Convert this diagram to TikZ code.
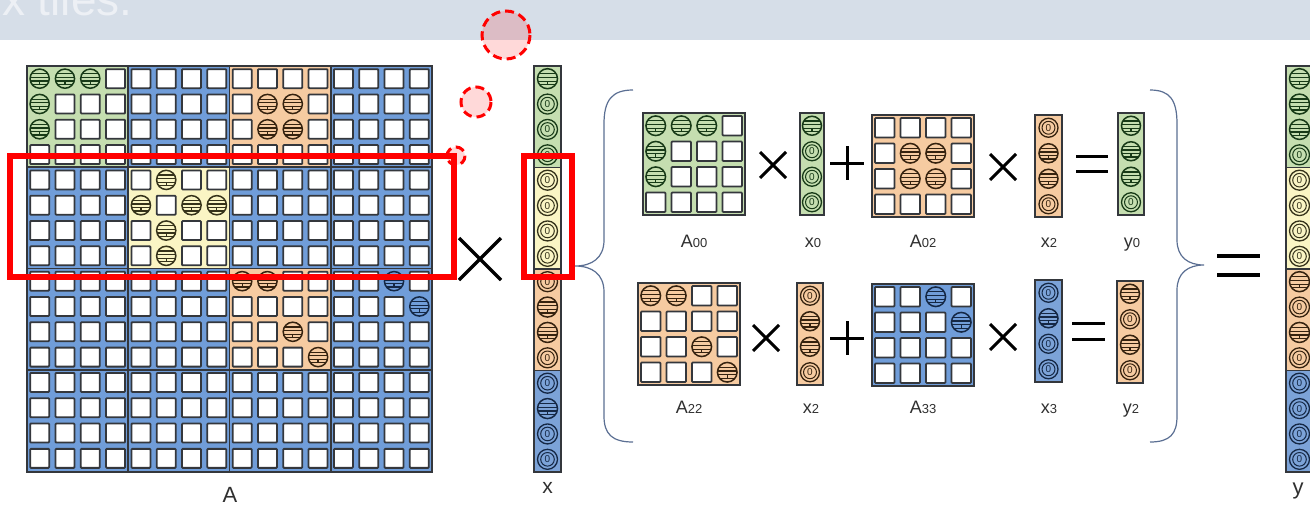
\documentclass[tikz,border=0pt]{standalone}
\usepackage{fontspec}
\setmainfont{Liberation Sans}
\definecolor{banner}{HTML}{D6DEE8}
\definecolor{gA}{HTML}{C5DEB0}
\definecolor{yA}{HTML}{FAF5C4}
\definecolor{oA}{HTML}{F6CBA1}
\definecolor{bA}{HTML}{709DD9}
\definecolor{bV}{HTML}{7CA3D8}
\definecolor{gS}{HTML}{173A17}
\definecolor{yS}{HTML}{35321A}
\definecolor{oS}{HTML}{35220F}
\definecolor{bS}{HTML}{152845}
\definecolor{frame}{HTML}{34373C}
\definecolor{brace}{HTML}{5B6F93}
\definecolor{mark}{HTML}{FF0000}
\definecolor{lblc}{HTML}{303030}
\newcounter{zc}
\newcommand\nzb[4]{%
 \draw[#4, line width=1.5pt] ({#1},{#2}) circle[radius=#3];
 \draw[#4, line width=1.25pt]
   ({#1-0.85*#3},{#2-0.5*#3}) -- ({#1+0.85*#3},{#2-0.5*#3})
   ({#1-0.98*#3},{#2-0.13*#3}) -- ({#1+0.98*#3},{#2-0.13*#3})
   ({#1-0.96*#3},{#2+0.25*#3}) -- ({#1+0.96*#3},{#2+0.25*#3})
   ({#1-0.78*#3},{#2+0.6*#3}) -- ({#1+0.78*#3},{#2+0.6*#3})
   ({#1},{#2+0.25*#3}) -- ({#1},{#2+0.6*#3});
}
\newcommand\zb[4]{%
 \stepcounter{zc}%
 \draw[#4, line width=1.3pt] ({#1},{#2}) circle[radius=#3];
 \draw[#4, line width=1pt] ({#1},{#2}) circle[radius={0.68*#3}];
 \node[text=#4, inner sep=0pt, font=\fontsize{10}{10}\selectfont] (z\arabic{zc}) at ({#1},{#2}) {0};
}
\newcommand\vb[5]{\if#3n\nzb{#1}{#2}{#5}{#4}\else\zb{#1}{#2}{#5}{#4}\fi}
% square grid: x0 y0 pitch n size
\newcommand\sqgrid[5]{%
 \foreach \r in {1,...,#4} \foreach \c in {1,...,#4}
  \draw[cellsq] ({#1+(\c-0.5)*#3-#5/2},{#2+(\r-0.5)*#3-#5/2}) rectangle ++(#5,#5);
}
% nonzero cell: x0 y0 pitch row col fill stroke radius
\newcommand\nzc[8]{%
 \fill[#6] ({#1+#5*#3+1.2},{#2+#4*#3+1.2}) rectangle ++({#3-2.4},{#3-2.4});
 \nzb{#1+(#5+0.5)*#3}{#2+(#4+0.5)*#3}{#8}{#7}
}
\tikzset{
 cellsq/.style={draw=frame, fill=white, line width=1.8pt, rounded corners=0.8pt},
 tileline/.style={draw=frame, line width=1.8pt},
 outerA/.style={draw=frame, line width=2.5pt},
 outerS/.style={draw=frame, line width=2.8pt},
 vecbox/.style={draw=frame, line width=1.4pt},
 op/.style={draw=black, line width=3pt},
 bigop/.style={draw=black, line width=3.2pt},
 lbl/.style={anchor=base, inner sep=0pt, text=lblc, font=\fontsize{18}{18}\selectfont},
 biglbl/.style={anchor=base, inner sep=0pt, text=lblc, font=\fontsize{22}{22}\selectfont},
 bracestyle/.style={draw=brace, line width=1.2pt},
 redbox/.style={draw=mark, line width=5.5pt},
 redcirc/.style={draw=mark, line width=3pt, dash pattern=on 9pt off 5pt, fill=mark, fill opacity=0.15}
}
\newcommand\sub[2]{#1{\fontsize{13}{13}\selectfont\raisebox{-0.5pt}{#2}}}
\begin{document}
\begin{tikzpicture}[x=1pt,y=-1pt]
\useasboundingbox (0,0) rectangle (1310,504);
\begin{scope}
\clip (0,0) rectangle (1310,504);
\fill[white] (0,0) rectangle (1310,504);
% banner
\fill[banner] (0,0) rectangle (1310,40);
\node[anchor=base west, inner sep=0pt, text=white!55!banner, font=\fontsize{46}{46}\selectfont] (title) at (2,15) {x tiles.};

% ===== big matrix A =====
\fill[bA] (27,66) rectangle (432,472);
\fill[gA] (27,66) rectangle ++(101.25,101.25);
\fill[oA] (229.5,66) rectangle ++(101.25,101.25);
\fill[yA] (128.25,167.25) rectangle ++(101.25,101.25);
\fill[oA] (229.5,268.5) rectangle ++(101.25,101.25);
\sqgrid{27}{66}{25.3125}{16}{19}
\foreach \t in {128.25,229.5,330.75}{
  \draw[tileline] (\t,66) -- (\t,472);
  \draw[tileline] (27,\t+39) -- (432,\t+39);
}
\draw[outerA] (27,66) rectangle (432,472);
% nonzeros of A
\foreach \r/\c in {0/0,0/1,0/2,1/0,2/0}{\nzc{27}{66}{25.3125}{\r}{\c}{gA}{gS}{9.6}}
\foreach \r/\c in {1/9,1/10,2/9,2/10}{\nzc{27}{66}{25.3125}{\r}{\c}{oA}{oS}{9.6}}
\foreach \r/\c in {4/5,5/4,5/6,5/7,6/5,7/5}{\nzc{27}{66}{25.3125}{\r}{\c}{yA}{yS}{9.6}}
\foreach \r/\c in {8/8,8/9,10/10,11/11}{\nzc{27}{66}{25.3125}{\r}{\c}{oA}{oS}{9.6}}
\foreach \r/\c in {8/14,9/15}{\nzc{27}{66}{25.3125}{\r}{\c}{bA}{bS}{9.6}}
\node[biglbl] (lA) at (230,502) {A};

% big multiply
\draw[bigop] (459,238) -- (501,280) (459,280) -- (501,238);

% ===== vector x =====
\fill[gA] (534,66) rectangle ++(27,101.5);
\fill[yA] (534,167.5) rectangle ++(27,101.5);
\fill[oA] (534,269) rectangle ++(27,101.5);
\fill[bV] (534,370.5) rectangle ++(27,101.5);
\foreach \i/\k in {0/n,1/z,2/z,3/z}{\vb{547.5}{66+(\i+0.5)*25.375}{\k}{gS}{10}}
\foreach \i/\k in {4/z,5/z,6/z,7/z}{\vb{547.5}{66+(\i+0.5)*25.375}{\k}{yS}{10}}
\foreach \i/\k in {8/z,9/n,10/n,11/z}{\vb{547.5}{66+(\i+0.5)*25.375}{\k}{oS}{10}}
\foreach \i/\k in {12/z,13/n,14/z,15/z}{\vb{547.5}{66+(\i+0.5)*25.375}{\k}{bS}{10}}
\draw[vecbox] (534,167.5) -- (561,167.5) (534,269) -- (561,269) (534,370.5) -- (561,370.5);
\draw[vecbox] (534,66) rectangle (561,472);
\node[lbl, font=\fontsize{21}{21}\selectfont] (lx) at (547.5,493) {x};

% ===== braces =====
\draw[bracestyle] (633,90) .. controls (612,90) and (604,100) .. (604,124) -- (604,240)
  .. controls (604,258) and (592,266) .. (575,266)
  .. controls (592,266) and (604,274) .. (604,292) -- (604,416)
  .. controls (604,434) and (612,442) .. (633,442);
\draw[bracestyle] (1150,90) .. controls (1170,90) and (1177,100) .. (1177,124) -- (1177,240)
  .. controls (1177,257) and (1188,265) .. (1204,265)
  .. controls (1188,265) and (1177,273) .. (1177,290) -- (1177,416)
  .. controls (1177,434) and (1170,442) .. (1150,442);

% ===== row 1 =====
% A00
\fill[gA] (643,113) rectangle ++(102,102);
\sqgrid{643}{113}{25.5}{4}{19.5}
\foreach \r/\c in {0/0,0/1,0/2,1/0,2/0}{\nzc{643}{113}{25.5}{\r}{\c}{gA}{gS}{9.8}}
\draw[outerS] (643,113) rectangle ++(102,102);
\node[lbl] (lA00) at (694,247) {\sub{A}{00}};
\draw[op] (760,152) -- (786,178) (760,178) -- (786,152);
% x0
\fill[gA] (800,113) rectangle ++(24,102);
\foreach \i/\k in {0/n,1/z,2/z,3/z}{\vb{812}{113+(\i+0.5)*25.5}{\k}{gS}{9.5}}
\draw[vecbox] (800,113) rectangle ++(24,102);
\node[lbl] (lx0) at (813,247) {\sub{x}{0}};
\draw[op] (830,163) -- (864,163) (847,146) -- (847,180);
% A02
\fill[oA] (872,115) rectangle ++(102,102);
\sqgrid{872}{115}{25.5}{4}{19.5}
\foreach \r/\c in {1/1,1/2,2/1,2/2}{\nzc{872}{115}{25.5}{\r}{\c}{oA}{oS}{9.8}}
\draw[outerS] (872,115) rectangle ++(102,102);
\node[lbl] (lA02) at (923,247) {\sub{A}{02}};
\draw[op] (990,154) -- (1016,180) (990,180) -- (1016,154);
% x2
\fill[oA] (1035,115) rectangle ++(27,102);
\foreach \i/\k in {0/z,1/n,2/n,3/z}{\vb{1048.5}{115+(\i+0.5)*25.5}{\k}{oS}{9.5}}
\draw[vecbox] (1035,115) rectangle ++(27,102);
\node[lbl] (lx2a) at (1049,247) {\sub{x}{2}};
\draw[op] (1076,156) -- (1108,156) (1076,171) -- (1108,171);
% y0
\fill[gA] (1118,113) rectangle ++(26,102);
\foreach \i/\k in {0/n,1/n,2/n,3/z}{\vb{1131}{113+(\i+0.5)*25.5}{\k}{gS}{9.5}}
\draw[vecbox] (1118,113) rectangle ++(26,102);
\node[lbl] (ly0) at (1132,247) {\sub{y}{0}};

% ===== row 2 =====
% A22
\fill[oA] (638,283) rectangle ++(102,102);
\sqgrid{638}{283}{25.5}{4}{19.5}
\foreach \r/\c in {0/0,0/1,2/2,3/3}{\nzc{638}{283}{25.5}{\r}{\c}{oA}{oS}{9.8}}
\draw[outerS] (638,283) rectangle ++(102,102);
\node[lbl] (lA22) at (689,413) {\sub{A}{22}};
\draw[op] (753,325) -- (779,351) (753,351) -- (779,325);
% x2
\fill[oA] (797,283) rectangle ++(26,102);
\foreach \i/\k in {0/z,1/n,2/n,3/z}{\vb{810}{283+(\i+0.5)*25.5}{\k}{oS}{9.5}}
\draw[vecbox] (797,283) rectangle ++(26,102);
\node[lbl] (lx2b) at (811,413) {\sub{x}{2}};
\draw[op] (830,338) -- (864,338) (847,321) -- (847,355);
% A33
\fill[bA] (872,284) rectangle ++(102,102);
\sqgrid{872}{284}{25.5}{4}{19.5}
\foreach \r/\c in {0/2,1/3}{\nzc{872}{284}{25.5}{\r}{\c}{bA}{bS}{9.8}}
\draw[outerS] (872,284) rectangle ++(102,102);
\node[lbl] (lA33) at (923,413) {\sub{A}{33}};
\draw[op] (990,324) -- (1016,350) (990,350) -- (1016,324);
% x3
\fill[bV] (1035,280) rectangle ++(27,102);
\foreach \i/\k in {0/z,1/n,2/z,3/z}{\vb{1048.5}{280+(\i+0.5)*25.5}{\k}{bS}{9.5}}
\draw[vecbox] (1035,280) rectangle ++(27,102);
\node[lbl] (lx3) at (1049,413) {\sub{x}{3}};
\draw[op] (1072,323) -- (1105,323) (1072,339) -- (1105,339);
% y2
\fill[oA] (1117,281) rectangle ++(26,102);
\foreach \i/\k in {0/n,1/z,2/n,3/z}{\vb{1130}{281+(\i+0.5)*25.5}{\k}{oS}{9.5}}
\draw[vecbox] (1117,281) rectangle ++(26,102);
\node[lbl] (ly2) at (1131,413) {\sub{y}{2}};

% big equals
\draw[bigop] (1217,256) -- (1260,256) (1217,275) -- (1260,275);

% ===== vector y =====
\fill[gA] (1286,66) rectangle ++(27,101.5);
\fill[yA] (1286,167.5) rectangle ++(27,101.5);
\fill[oA] (1286,269) rectangle ++(27,101.5);
\fill[bV] (1286,370.5) rectangle ++(27,101.5);
\foreach \i/\k in {0/n,1/n,2/n,3/z}{\vb{1299.5}{66+(\i+0.5)*25.375}{\k}{gS}{10}}
\foreach \i/\k in {4/z,5/z,6/z,7/z}{\vb{1299.5}{66+(\i+0.5)*25.375}{\k}{yS}{10}}
\foreach \i/\k in {8/n,9/z,10/n,11/z}{\vb{1299.5}{66+(\i+0.5)*25.375}{\k}{oS}{10}}
\foreach \i/\k in {12/z,13/z,14/z,15/z}{\vb{1299.5}{66+(\i+0.5)*25.375}{\k}{bS}{10}}
\draw[vecbox] (1286,167.5) -- (1313,167.5) (1286,269) -- (1313,269) (1286,370.5) -- (1313,370.5);
\draw[vecbox] (1286,66) rectangle (1313,472);
\node[lbl, font=\fontsize{22}{22}\selectfont] (ly) at (1298,494) {y};

% ===== red annotations =====
\draw[redcirc] (506,35) circle[radius=24];
\draw[redcirc] (476,102) circle[radius=15];
\draw[redcirc] (456,156) circle[radius=9];
\draw[redbox] (10,156) rectangle (454,277);
\draw[redbox] (524,156) rectangle (572,277);
\end{scope}
\end{tikzpicture}
\end{document}
